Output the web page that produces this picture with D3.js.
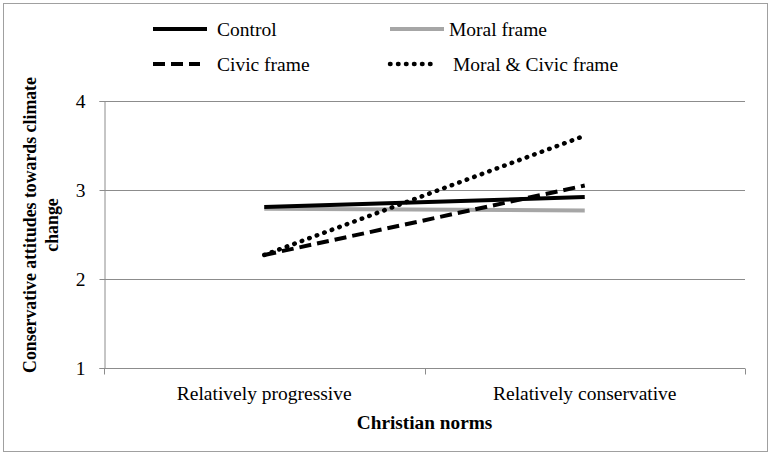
<!DOCTYPE html>
<html>
<head>
<meta charset="utf-8">
<script src="https://cdn.jsdelivr.net/npm/d3@7"></script>
<style>
    html, body { margin: 0; padding: 0; background: #ffffff; }
    svg { display: block; }
</style>
</head>
<body>
<div id="chart"></div>
<script>
var categories = ['Relatively progressive', 'Relatively conservative'];
var seriesNames = ['Control', 'Moral frame', 'Civic frame', 'Moral & Civic frame'];
var controlValues = [2.81, 2.92];
var moralValues = [2.79, 2.77];
var civicValues = [2.27, 3.05];
var moralCivicValues = [2.27, 3.61];
var yTicks = [1, 2, 3, 4];

(function () {
    'use strict';

    var WIDTH = 778;
    var HEIGHT = 456;
    var FONT = '"Liberation Serif", "Times New Roman", serif';
    var margin = {top: 101, right: 33, bottom: 88, left: 104};

    var series = [
        {name: seriesNames[0], values: controlValues, color: '#000000', dash: null, cap: 'butt'},
        {name: seriesNames[1], values: moralValues, color: '#a6a6a6', dash: null, cap: 'butt'},
        {name: seriesNames[2], values: civicValues, color: '#000000', dash: '12,6', cap: 'butt'},
        {name: seriesNames[3], values: moralCivicValues, color: '#000000', dash: '0.5,7.5', cap: 'round'}
    ];
    // Moral first so the black control line sits over it, as in the original
    var drawOrder = [series[1], series[0], series[2], series[3]];

    var svg = d3.select('#chart')
        .append('svg')
        .attr('width', WIDTH)
        .attr('height', HEIGHT);

    // outer frame
    svg.append('rect')
        .attr('x', 3.5).attr('y', 3.5)
        .attr('width', 764).attr('height', 448)
        .attr('fill', 'none')
        .attr('stroke', '#a0a0a0')
        .attr('stroke-width', 1);

    var x = d3.scaleBand()
        .domain(categories)
        .range([margin.left, WIDTH - margin.right]);

    var y = d3.scaleLinear()
        .domain([1, 4])
        .range([HEIGHT - margin.bottom, margin.top]);

    // gridlines
    svg.append('g')
        .selectAll('line')
        .data(yTicks.slice(1))
        .enter()
        .append('line')
        .attr('x1', margin.left)
        .attr('x2', WIDTH - margin.right)
        .attr('y1', function (d) { return Math.round(y(d)) + 0.5; })
        .attr('y2', function (d) { return Math.round(y(d)) + 0.5; })
        .attr('stroke', '#8c8c8c')
        .attr('stroke-width', 1);

    // y axis
    var yAxis = svg.append('g')
        .attr('transform', 'translate(' + (margin.left + 0.5) + ',0)')
        .call(d3.axisLeft(y).tickValues(yTicks).tickSize(5).tickPadding(14).tickFormat(d3.format('d')));
    yAxis.select('.domain').attr('stroke', '#8c8c8c');
    yAxis.selectAll('.tick line').attr('stroke', '#8c8c8c');
    yAxis.selectAll('.tick text')
        .attr('font-family', FONT)
        .attr('font-size', 19.5)
        .attr('fill', '#000');

    // x axis with ticks at band boundaries
    var boundaries = [margin.left, margin.left + x.bandwidth(), WIDTH - margin.right];
    var xAxis = svg.append('g')
        .attr('transform', 'translate(0,' + (Math.round(y(1)) + 0.5) + ')');
    xAxis.append('line')
        .attr('x1', margin.left).attr('x2', WIDTH - margin.right)
        .attr('stroke', '#8c8c8c');
    xAxis.selectAll('line.tk')
        .data(boundaries)
        .enter()
        .append('line')
        .attr('class', 'tk')
        .attr('x1', function (d) { return Math.round(d) + 0.5; })
        .attr('x2', function (d) { return Math.round(d) + 0.5; })
        .attr('y1', 0).attr('y2', 6)
        .attr('stroke', '#8c8c8c');
    xAxis.selectAll('text')
        .data(categories)
        .enter()
        .append('text')
        .attr('x', function (d) { return x(d) + x.bandwidth() / 2; })
        .attr('y', 31)
        .attr('text-anchor', 'middle')
        .attr('font-family', FONT)
        .attr('font-size', 19.5)
        .text(function (d) { return d; });

    // axis titles
    svg.append('text')
        .attr('x', (margin.left + WIDTH - margin.right) / 2)
        .attr('y', 429)
        .attr('text-anchor', 'middle')
        .attr('font-family', FONT)
        .attr('font-weight', 'bold')
        .attr('font-size', 19.3)
        .text('Christian norms');

    var yTitle = svg.append('text')
        .attr('transform', 'translate(36,225) rotate(-90)')
        .attr('text-anchor', 'middle')
        .attr('font-family', FONT)
        .attr('font-weight', 'bold')
        .attr('font-size', 17.8);
    yTitle.append('tspan').attr('x', 0).attr('dy', 0).text('Conservative attitudes towards climate');
    yTitle.append('tspan').attr('x', 0).attr('dy', 22).text('change');

    // series lines
    var line = d3.line()
        .x(function (d, i) { return x(categories[i]) + x.bandwidth() / 2; })
        .y(function (d) { return y(d); });

    svg.append('g')
        .selectAll('path')
        .data(drawOrder)
        .enter()
        .append('path')
        .attr('d', function (s) { return line(s.values); })
        .attr('fill', 'none')
        .attr('stroke', function (s) { return s.color; })
        .attr('stroke-width', function (s) { return s.cap === 'round' ? 4.5 : 4; })
        .attr('stroke-dasharray', function (s) { return s.dash; })
        .attr('stroke-linecap', function (s) { return s.cap; });

    // legend
    var legendPos = [
        {x: 153, y: 29, tx: 217},
        {x: 390, y: 29, tx: 449},
        {x: 153, y: 64, tx: 217},
        {x: 390, y: 64, tx: 453}
    ];
    var legend = svg.append('g')
        .selectAll('g')
        .data(series)
        .enter()
        .append('g')
        .attr('transform', function (s, i) { return 'translate(' + legendPos[i].x + ',' + legendPos[i].y + ')'; });
    legend.append('line')
        .attr('x1', 0)
        .attr('x2', function (s, i) { return i < 2 ? 54 : 47; })
        .attr('stroke', function (s) { return s.color; })
        .attr('stroke-width', function (s) { return s.cap === 'round' ? 4.5 : 4; })
        .attr('stroke-dasharray', function (s) { return s.dash; })
        .attr('stroke-linecap', function (s) { return s.cap; });
    legend.append('text')
        .attr('x', function (s, i) { return legendPos[i].tx - legendPos[i].x; })
        .attr('y', 7)
        .attr('font-family', FONT)
        .attr('font-size', 19.5)
        .text(function (s) { return s.name; });
})();
</script>
</body>
</html>
